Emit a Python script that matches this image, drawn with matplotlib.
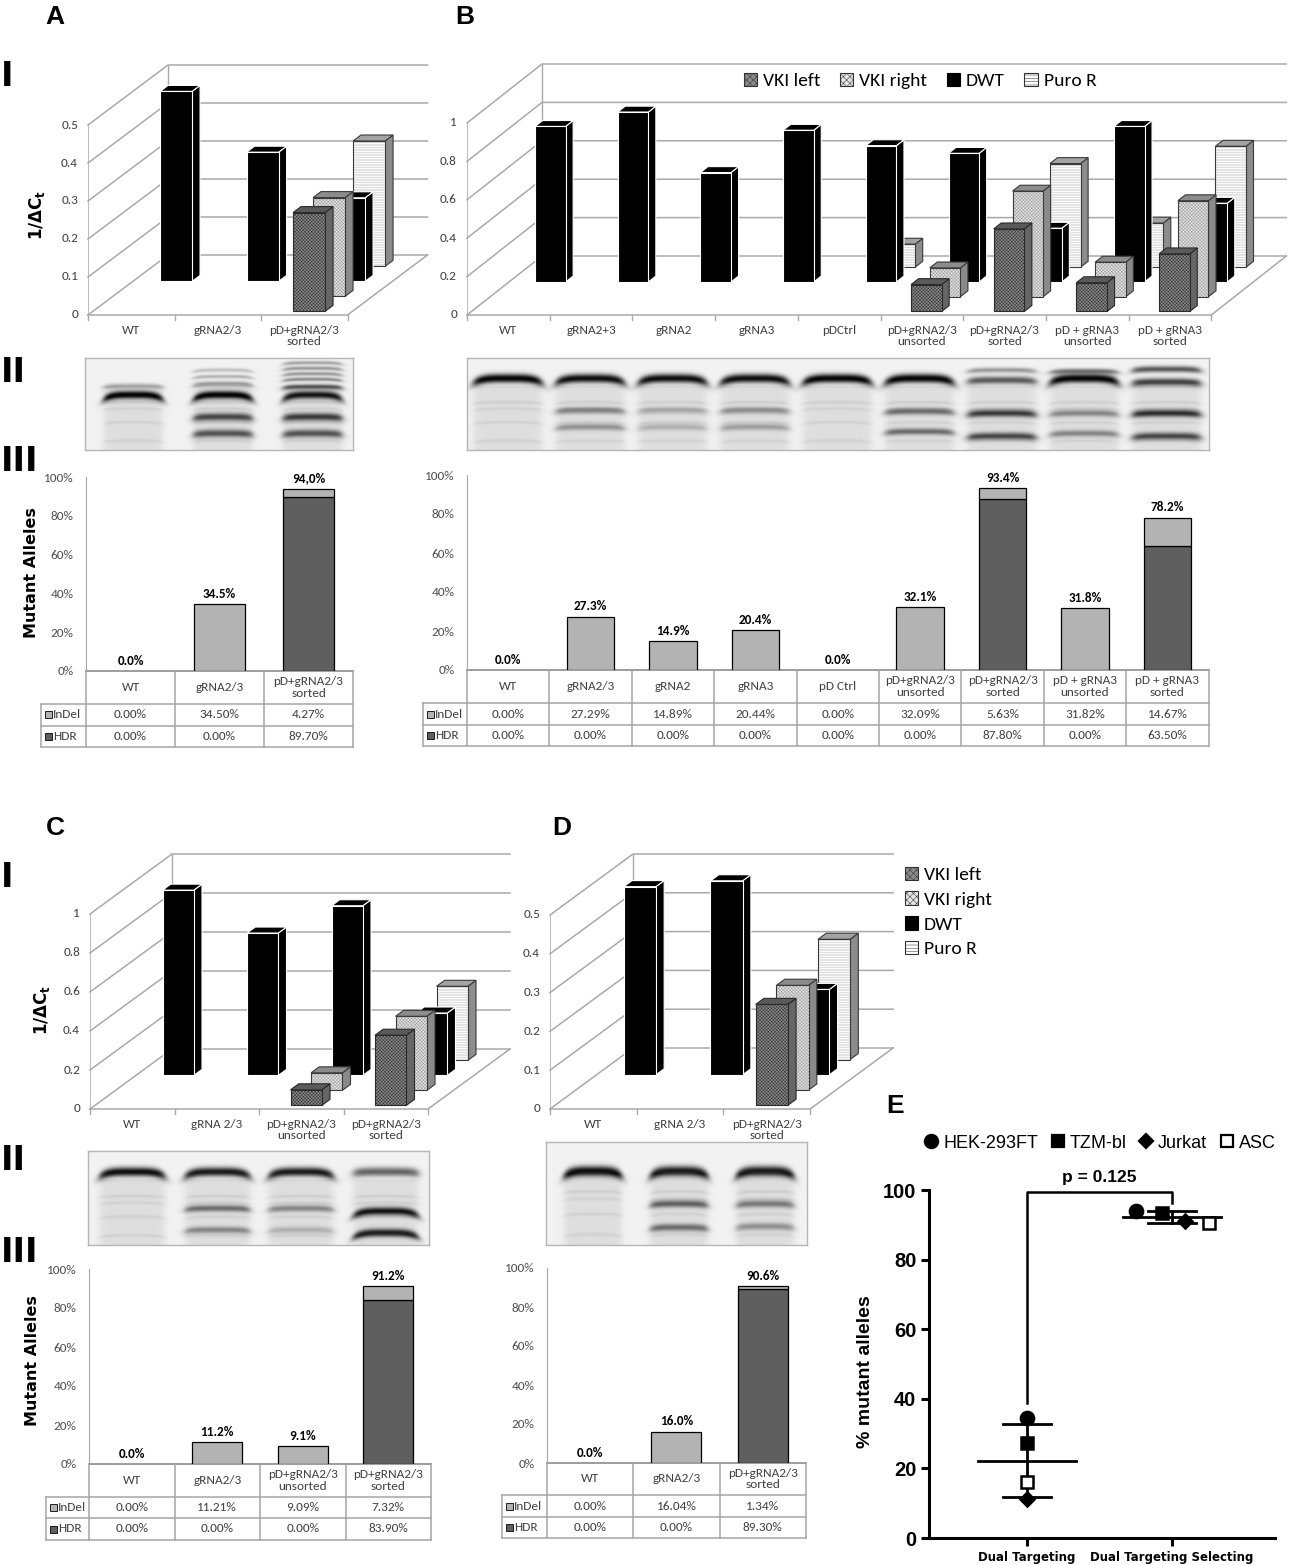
import numpy as np
import matplotlib
matplotlib.use("Agg")
import matplotlib.pyplot as plt
from matplotlib import font_manager
from matplotlib.patches import Polygon, Rectangle, Patch
from matplotlib.lines import Line2D

# ---------------- data ----------------
series_names = ["VKI left", "VKI right", "DWT", "Puro R"]

A_cats = ["WT", "gRNA2/3", "pD+gRNA2/3\nsorted"]
A_vki_left = [0, 0, 0.26]
A_vki_right = [0, 0, 0.26]
A_dwt = [0.50, 0.34, 0.22]
A_puro = [0, 0, 0.33]

B_cats = ["WT", "gRNA2+3", "gRNA2", "gRNA3", "pDCtrl", "pD+gRNA2/3\nunsorted",
          "pD+gRNA2/3\nsorted", "pD + gRNA3\nunsorted", "pD + gRNA3\nsorted"]
B_vki_left = [0, 0, 0, 0, 0, 0.14, 0.43, 0.15, 0.30]
B_vki_right = [0, 0, 0, 0, 0, 0.15, 0.55, 0.18, 0.50]
B_dwt = [0.81, 0.885, 0.57, 0.79, 0.71, 0.67, 0.28, 0.81, 0.41]
B_puro = [0, 0, 0, 0, 0.12, 0, 0.54, 0.23, 0.63]

C_cats = ["WT", "gRNA 2/3", "pD+gRNA2/3\nunsorted", "pD+gRNA2/3\nsorted"]
C_vki_left = [0, 0, 0.08, 0.36]
C_vki_right = [0, 0, 0.09, 0.38]
C_dwt = [0.95, 0.73, 0.87, 0.32]
C_puro = [0, 0, 0, 0.38]

D_cats = ["WT", "gRNA 2/3", "pD+gRNA2/3\nsorted"]
D_vki_left = [0, 0, 0.26]
D_vki_right = [0, 0, 0.27]
D_dwt = [0.485, 0.50, 0.22]
D_puro = [0, 0, 0.31]

A_mcats = ["WT", "gRNA2/3", "pD+gRNA2/3\nsorted"]
A_indel = [0.00, 34.50, 4.27]
A_hdr = [0.00, 0.00, 89.70]
A_totals = ["0.0%", "34.5%", "94,0%"]

B_mcats = ["WT", "gRNA2/3", "gRNA2", "gRNA3", "pD Ctrl", "pD+gRNA2/3\nunsorted",
           "pD+gRNA2/3\nsorted", "pD + gRNA3\nunsorted", "pD + gRNA3\nsorted"]
B_indel = [0.00, 27.29, 14.89, 20.44, 0.00, 32.09, 5.63, 31.82, 14.67]
B_hdr = [0.00, 0.00, 0.00, 0.00, 0.00, 0.00, 87.80, 0.00, 63.50]
B_totals = ["0.0%", "27.3%", "14.9%", "20.4%", "0.0%", "32.1%", "93.4%", "31.8%", "78.2%"]

C_mcats = ["WT", "gRNA2/3", "pD+gRNA2/3\nunsorted", "pD+gRNA2/3\nsorted"]
C_indel = [0.00, 11.21, 9.09, 7.32]
C_hdr = [0.00, 0.00, 0.00, 83.90]
C_totals = ["0.0%", "11.2%", "9.1%", "91.2%"]

D_mcats = ["WT", "gRNA2/3", "pD+gRNA2/3\nsorted"]
D_indel = [0.00, 16.04, 1.34]
D_hdr = [0.00, 0.00, 89.30]
D_totals = ["0.0%", "16.0%", "90.6%"]

E_groups = ["Dual Targeting", "Dual Targeting Selecting"]
E_lines = ["HEK-293FT", "TZM-bl", "Jurkat", "ASC"]
E_dual = [34.5, 27.3, 11.2, 16.0]
E_select = [94.0, 93.4, 91.2, 90.6]
E_p = "p = 0.125"

# gel bands per lane: (position from top 0..1, strength, width)
ladder = [(0.48, 0.06, 0.012), (0.55, 0.05, 0.012), (0.70, 0.05, 0.012), (0.90, 0.05, 0.012)]
A_gel = [
    [(0.30, 0.25, 0.02), (0.40, 0.9, 0.03)],
    [(0.13, 0.2, 0.015), (0.20, 0.25, 0.015), (0.28, 0.35, 0.02), (0.40, 0.9, 0.03),
     (0.64, 0.6, 0.03), (0.82, 0.55, 0.03)],
    [(0.05, 0.3, 0.015), (0.11, 0.35, 0.015), (0.17, 0.35, 0.015), (0.23, 0.4, 0.015),
     (0.31, 0.55, 0.02), (0.40, 0.8, 0.03), (0.64, 0.65, 0.03), (0.82, 0.55, 0.03)],
]
B_gel = [
    [(0.22, 0.95, 0.035)],
    [(0.22, 0.9, 0.035), (0.57, 0.35, 0.025), (0.75, 0.3, 0.025)],
    [(0.22, 0.9, 0.035), (0.57, 0.2, 0.025), (0.75, 0.18, 0.025)],
    [(0.22, 0.9, 0.035), (0.57, 0.3, 0.025), (0.75, 0.25, 0.025)],
    [(0.22, 0.95, 0.035)],
    [(0.22, 0.95, 0.035), (0.58, 0.45, 0.025), (0.80, 0.45, 0.025)],
    [(0.13, 0.35, 0.02), (0.24, 0.6, 0.03), (0.60, 0.65, 0.028), (0.85, 0.6, 0.028)],
    [(0.14, 0.45, 0.02), (0.22, 0.95, 0.035), (0.60, 0.35, 0.025), (0.82, 0.35, 0.025)],
    [(0.12, 0.6, 0.025), (0.26, 0.7, 0.03), (0.60, 0.7, 0.028), (0.85, 0.6, 0.028)],
]
C_gel = [
    [(0.22, 0.9, 0.035)],
    [(0.22, 0.85, 0.035), (0.61, 0.45, 0.025), (0.84, 0.35, 0.025)],
    [(0.22, 0.85, 0.035), (0.61, 0.35, 0.025), (0.84, 0.18, 0.025)],
    [(0.22, 0.55, 0.035), (0.64, 0.8, 0.03), (0.87, 0.75, 0.03)],
]
D_gel = [
    [(0.28, 0.9, 0.035)],
    [(0.28, 0.85, 0.035), (0.60, 0.5, 0.025), (0.83, 0.45, 0.025)],
    [(0.28, 0.85, 0.035), (0.60, 0.4, 0.025), (0.82, 0.3, 0.025)],
]

# ---------------- setup ----------------
W, H = 1289, 1565
plt.rcParams["hatch.linewidth"] = 0.35
names = {f.name for f in font_manager.fontManager.ttflist}


def pick(*cands):
    for c in cands:
        if c in names:
            return c
    return "DejaVu Sans"


XL = pick("Carlito", "Lato", "Open Sans")
ARIAL = pick("Liberation Sans", "Arimo", "DejaVu Sans")

fig = plt.figure(figsize=(W / 100, H / 100), dpi=100)


def px_axes(l, t, r, b):
    return fig.add_axes([l / W, 1 - b / H, (r - l) / W, (b - t) / H])


def ftext(x, y, s, **kw):
    fig.text(x / W, 1 - y / H, s, **kw)


ROW_F = [0.06, 0.31, 0.56, 0.81]
BAR_W = 0.37
BAR_D = 0.1
STYLES = [
    dict(front="#8a8a8a", hatch="xxxxxxxxxx", hc="#333333", top="#5a5a5a", side="#666666", edge="#2a2a2a"),
    dict(front="#e4e4e4", hatch="xxxxxxxxxx", hc="#9a9a9a", top="#8c8c8c", side="#8a8a8a", edge="#3a3a3a"),
    dict(front="#000000", hatch=None, hc=None, top="#000000", side="#000000", edge="#ffffff"),
    dict(front="#ffffff", hatch="----------", hc="#bdbdbd", top="#a3a3a3", side="#8c8c8c", edge="#3a3a3a"),
]
zc = [10]


def face(ax, pts, fc, edge, hatch=None, hc=None):
    zc[0] += 1
    if hatch:
        ax.add_patch(Polygon(pts, closed=True, facecolor=fc, edgecolor=hc, hatch=hatch,
                             lw=0, zorder=zc[0], clip_on=False))
        ax.add_patch(Polygon(pts, closed=True, fill=False, edgecolor=edge, lw=0.8,
                             zorder=zc[0], clip_on=False))
    else:
        ax.add_patch(Polygon(pts, closed=True, facecolor=fc, edgecolor=edge, lw=0.8,
                             zorder=zc[0], clip_on=False))


def box(ax, x, y, w, h, dx, dy, st):
    front = [(x, y), (x + w, y), (x + w, y + h), (x, y + h)]
    top = [(x, y + h), (x + w, y + h), (x + w + dx, y + h + dy), (x + dx, y + h + dy)]
    side = [(x + w, y), (x + w + dx, y + dy), (x + w + dx, y + h + dy), (x + w, y + h)]
    face(ax, side, st["side"], st["edge"])
    face(ax, top, st["top"], st["edge"])
    face(ax, front, st["front"], st["edge"], st["hatch"], st["hc"])


def chart3d(geom, cats, series, ymax, step, fmt, fs=9.5):
    x0, y0, cw, ppu, ddx, ddy = geom
    n = len(cats)
    DX, DY = ddx / cw, ddy / ppu
    ax = px_axes(x0, y0 - ymax * ppu - ddy, x0 + n * cw + ddx, y0)
    ax.set_xlim(0, n + DX)
    ax.set_ylim(0, ymax + DY)
    ax.axis("off")
    grid = "#a9a9a9"
    for v in np.arange(0, ymax + 1e-9, step):
        ax.plot([0, DX, n + DX], [v, v + DY, v + DY], color=grid, lw=1.1, zorder=1, clip_on=False)
        ax.text(-10 / cw, v, fmt(v), ha="right", va="center", fontsize=fs,
                family=XL, color="#404040")
    ax.plot([0, 0], [0, ymax], color=grid, lw=1.1, zorder=1)
    ax.plot([DX, DX], [DY, ymax + DY], color=grid, lw=1.0, zorder=1)
    ax.plot([0, n, n + DX], [0, 0, DY], color=grid, lw=1.1, zorder=1, clip_on=False)
    for i in range(n + 1):
        ax.plot([i, i], [0, -5 / ppu], color=grid, lw=1.0, clip_on=False)
    for i, c in enumerate(cats):
        ax.text(i + 0.5, -10 / ppu, c, ha="center", va="top", fontsize=fs,
                family=XL, color="#404040", linespacing=1.05)
    for r in reversed(range(4)):
        f = ROW_F[r]
        for c in range(n):
            v = series[r][c]
            if v <= 0:
                continue
            box(ax, c + 0.5 - BAR_W / 2 + f * DX, f * DY, BAR_W, v,
                BAR_D * DX, BAR_D * DY, STYLES[r])
    return ax


def legend_handles():
    return [Patch(facecolor=s["front"], edgecolor=("#333333" if s["hatch"] else "#000000"),
                  hatch=(s["hatch"][:5] if s["hatch"] else None), lw=0.8) for s in STYLES]


def mutant_chart(geom, cats, indel, hdr, totals, fs=9.5):
    xa, y100, y0, col_w, lab_l, rows = geom
    n = len(cats)
    xr = xa + n * col_w
    ax = px_axes(xa, y100, xr, y0)
    ax.set_xlim(0, n)
    ax.set_ylim(0, 100)
    x = np.arange(n) + 0.5
    indel = np.array(indel)
    hdr = np.array(hdr)
    mh = hdr > 0
    ax.bar(x[mh], hdr[mh], 0.58, color="#5f5f5f", edgecolor="black", lw=0.9, zorder=3)
    mi = indel > 0
    ax.bar(x[mi], indel[mi], 0.58, bottom=hdr[mi], color="#b3b3b3", edgecolor="black",
           lw=0.9, zorder=3)
    for xi, t, tot in zip(x, totals, indel + hdr):
        ax.text(xi, tot + 2.2, t, ha="center", va="bottom", fontsize=fs,
                fontweight="bold", family=XL, color="black")
    for s in ["top", "right"]:
        ax.spines[s].set_visible(False)
    ax.spines["left"].set_color("#a6a6a6")
    ax.spines["bottom"].set_color("#8c8c8c")
    ax.spines["bottom"].set_linewidth(1.2)
    ax.set_xticks([])
    ax.set_yticks(np.arange(0, 101, 20))
    ax.set_yticklabels([f"{v}%" for v in range(0, 101, 20)], fontsize=fs, family=XL,
                       color="#505050")
    ax.tick_params(axis="y", length=0, pad=9)

    hb, ib, tb = rows[0] - y0, rows[1] - y0, rows[2] - y0
    axt = px_axes(lab_l, y0, xr, rows[2])
    lu = (xa - lab_l) / col_w
    axt.set_xlim(-lu, n)
    axt.set_ylim(tb, 0)
    axt.axis("off")
    lc = "#a6a6a6"
    for i in range(n + 1):
        axt.plot([i, i], [0, tb], color=lc, lw=1.1, clip_on=False)
    axt.plot([-lu, -lu], [hb, tb], color=lc, lw=1.1, clip_on=False)
    for yy in (hb, ib, tb):
        axt.plot([-lu, n], [yy, yy], color=lc, lw=1.1, clip_on=False)
    for i, c in enumerate(cats):
        axt.text(i + 0.5, hb / 2, c, ha="center", va="center", fontsize=fs, family=XL,
                 color="#404040", linespacing=1.05)
        axt.text(i + 0.5, (hb + ib) / 2, f"{indel[i]:.2f}%", ha="center", va="center",
                 fontsize=fs, family=XL, color="#404040")
        axt.text(i + 0.5, (ib + tb) / 2, f"{hdr[i]:.2f}%", ha="center", va="center",
                 fontsize=fs, family=XL, color="#404040")
    for (yt, yb), lab, col in [((hb, ib), "InDel", "#b3b3b3"), ((ib, tb), "HDR", "#5f5f5f")]:
        mid = (yt + yb) / 2
        axt.add_patch(Rectangle((-lu + 4 / col_w, mid - 3.5), 7 / col_w, 7, facecolor=col,
                                edgecolor="black", lw=0.6, clip_on=False))
        axt.text(-lu + 12 / col_w, mid, lab, ha="left", va="center", fontsize=fs,
                 family=XL, color="#404040")


def gel(rect, lane_pos, lane_w, lanes, top_curve=0.05):
    l, t, r, b = rect
    ax = px_axes(l, t, r, b)
    h, w = int(b - t) * 3, int(r - l) * 3
    yy = np.linspace(0, 1, h)[:, None]
    xx = np.linspace(0, 1, w)[None, :]
    dark = np.full((h, w), 0.05)
    for c, lane in zip(lane_pos, lanes):
        u = (xx - c) / (lane_w / 2)
        prof = 1 / (1 + np.exp((np.abs(u) - 1) / 0.07))
        for yp, s, sg in lane + ladder:
            yc = yp + (top_curve if s > 0.7 else top_curve / 3) * np.clip(np.abs(u), 0, 1.2) ** 4
            dark = dark + s * prof * np.exp(-0.5 * ((yy - yc) / sg) ** 2)
        dark = dark + 0.08 * prof * (yy > 0.3)
    img = 1 - np.clip(dark, 0, 0.97)
    ax.imshow(img, cmap="gray", vmin=0, vmax=1, aspect="auto", extent=(0, 1, 1, 0),
              interpolation="bilinear")
    ax.set_xticks([])
    ax.set_yticks([])
    for s in ax.spines.values():
        s.set_color("#b5b5b5")
        s.set_linewidth(1.0)


def f1(v):
    return f"{v:.1f}".rstrip("0").rstrip(".") if v else "0"


# ---------------- panel I charts ----------------
chart3d((88, 315, 86.5, 380, 80, 60), A_cats, [A_vki_left, A_vki_right, A_dwt, A_puro],
        0.5, 0.1, f1)
chart3d((467, 315, 82.7, 192, 75, 59), B_cats, [B_vki_left, B_vki_right, B_dwt, B_puro],
        1.0, 0.2, f1)
chart3d((90, 1109, 84.5, 195, 82, 60), C_cats, [C_vki_left, C_vki_right, C_dwt, C_puro],
        1.0, 0.2, f1)
chart3d((550, 1109, 86.7, 388, 83, 61), D_cats, [D_vki_left, D_vki_right, D_dwt, D_puro],
        0.5, 0.1, f1)

fig.legend(legend_handles(), series_names, loc="center", bbox_to_anchor=(920 / W, 1 - 81 / H),
           ncol=4, frameon=False, prop={"family": XL, "size": 14}, handlelength=0.7,
           handleheight=0.7, handletextpad=0.3, columnspacing=1.0)
fig.legend(legend_handles(), series_names, loc="upper left", bbox_to_anchor=(887 / W, 1 - 849 / H),
           ncol=1, frameon=False, prop={"family": XL, "size": 14}, handlelength=0.7,
           handleheight=0.7, handletextpad=0.3, labelspacing=0.42)

# ---------------- panel II gels ----------------
gel((85, 358, 353, 450), [0.18, 0.515, 0.85], 0.22, A_gel)
gel((467, 358, 1209, 450), [0.055 + 0.111 * i for i in range(9)], 0.092, B_gel)
gel((88, 1151, 429, 1245), [0.13, 0.38, 0.625, 0.874], 0.19, C_gel)
gel((546, 1142, 807, 1245), [0.18, 0.51, 0.84], 0.22, D_gel)

# ---------------- panel III mutant alleles ----------------
mutant_chart((86, 477, 671, 89, 41, (704, 726, 747)), A_mcats, A_indel, A_hdr, A_totals)
mutant_chart((467, 475, 670, 82.4, 423, (703, 725, 746)), B_mcats, B_indel, B_hdr, B_totals)
mutant_chart((89, 1269, 1464, 85.5, 46, (1497, 1518, 1540)), C_mcats, C_indel, C_hdr, C_totals)
mutant_chart((547, 1268, 1463, 86.3, 502, (1495, 1517, 1538)), D_mcats, D_indel, D_hdr, D_totals)

# ---------------- panel E ----------------
axE = px_axes(929, 1190, 1275, 1538)
axE.set_xlim(0.324, 2.71)
axE.set_ylim(0, 100)
mk = [("o", "black", 9.5), ("s", "black", 8.5), ("D", "black", 7.5), ("s", "white", 8.5)]
sel_jit = [-0.25, -0.07, 0.09, 0.255]
for xg, vals in [(1, E_dual), (2, E_select)]:
    m = np.mean(vals)
    sd = np.std(vals, ddof=1)
    axE.plot([xg - 0.335, xg + 0.335], [m, m], color="black", lw=2, zorder=2)
    axE.plot([xg, xg], [m - sd, m + sd], color="black", lw=2, zorder=2)
    for e in (m - sd, m + sd):
        axE.plot([xg - 0.165, xg + 0.165], [e, e], color="black", lw=2, zorder=2)
for i, (mrk, fc, ms) in enumerate(mk):
    axE.plot(1, E_dual[i], marker=mrk, ms=ms, mfc=fc, mec="black", mew=1.8, ls="none", zorder=3)
    axE.plot(2 + sel_jit[i], E_select[i], marker=mrk, ms=ms, mfc=fc, mec="black", mew=1.8,
             ls="none", zorder=3)
m1, s1 = np.mean(E_dual), np.std(E_dual, ddof=1)
top = max(E_select) + 5.5
axE.plot([1, 1, 2, 2], [m1 + s1 + 6, top, top, max(E_select) + 2.3], color="black", lw=1.8,
         clip_on=False)
axE.text(1.5, top + 2, E_p, ha="center", va="bottom", fontsize=12.5, fontweight="bold",
         family=ARIAL)
for s in ["top", "right"]:
    axE.spines[s].set_visible(False)
for s in ["left", "bottom"]:
    axE.spines[s].set_linewidth(2.2)
axE.set_yticks(np.arange(0, 101, 20))
axE.set_yticklabels([str(v) for v in range(0, 101, 20)], fontsize=14.5, fontweight="bold",
                    family=ARIAL)
axE.set_xticks([1, 2])
axE.set_xticklabels(E_groups, fontsize=8.5, fontweight="bold", family="DejaVu Sans")
axE.tick_params(axis="both", width=2.2, length=6, pad=3)
ftext(866, 1372, "% mutant alleles", fontsize=14, fontweight="bold", family=ARIAL,
      rotation=90, ha="center", va="center")
hE = [Line2D([], [], marker=mrk, ms=ms, mfc=fc, mec="black", mew=1.6, ls="none")
      for mrk, fc, ms in mk]
fig.legend(hE, E_lines, loc="center", bbox_to_anchor=(1100 / W, 1 - 1143 / H), ncol=4,
           frameon=False, prop={"family": ARIAL, "size": 13}, handlelength=0.8,
           handletextpad=0.25, columnspacing=0.7)

# ---------------- labels ----------------
for x, y, s in [(55, 17, "A"), (465, 17, "B"), (55, 828, "C"), (562, 828, "D"), (895, 1106, "E")]:
    ftext(x, y, s, fontsize=19, fontweight="bold", family=ARIAL, ha="center", va="center")
for y, s in [(77, "I"), (372, "II"), (462, "III"), (877, "I"), (1160, "II"), (1252, "III")]:
    ftext(1, y, s, fontsize=24, fontweight="bold", family="DejaVu Sans", ha="left", va="center")
for x, y in [(37, 215), (42, 1010)]:
    ftext(x, y, r"1/ΔC$_\mathbf{t}$", fontsize=12, fontweight="bold", family="DejaVu Sans",
          rotation=90, ha="center", va="center")
for x, y in [(32, 573), (33, 1361)]:
    ftext(x, y, "Mutant Alleles", fontsize=11.5, fontweight="bold", family="DejaVu Sans",
          rotation=90, ha="center", va="center")

fig.savefig("out.png", dpi=100, facecolor="white")
